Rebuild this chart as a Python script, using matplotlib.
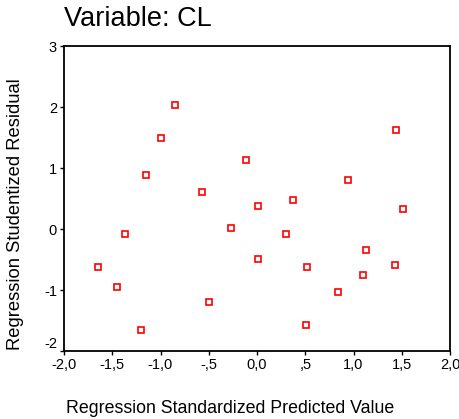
import matplotlib
matplotlib.use("Agg")
import matplotlib.pyplot as plt
from matplotlib.ticker import FixedLocator, FuncFormatter

plt.rcParams['font.family'] = ['Liberation Sans', 'DejaVu Sans']

# data (standardized predicted vs studentized residual)
pred = [-1.65, -1.45, -1.37, -1.20, -1.15, -0.99, -0.85, -0.57, -0.50, -0.27,
        -0.11, 0.01, 0.01, 0.30, 0.37, 0.52, 0.51, 0.84, 0.94, 1.13,
        1.10, 1.43, 1.44, 1.51]
resid = [-0.63, -0.95, -0.09, -1.66, 0.89, 1.49, 2.04, 0.61, -1.19, 0.02,
         1.13, 0.37, -0.49, -0.08, 0.48, -0.63, -1.58, -1.03, 0.81, -0.35,
         -0.75, -0.59, 1.62, 0.32]

xticks = [-2.0, -1.5, -1.0, -0.5, 0.0, 0.5, 1.0, 1.5, 2.0]
yticks = [-2, -1, 0, 1, 2, 3]


def spss_fmt(v, pos):
    # SPSS style: comma decimal, no leading zero
    s = "%.1f" % v
    s = s.replace(".", ",")
    if abs(v) < 1 and v != 0:
        s = s.replace("0,", ",")
    return s


fig = plt.figure(figsize=(4.59, 4.19), dpi=100)
ax = fig.add_axes([64/459, 1-351/419, (450-64)/459, (351-46)/419])

ax.plot(pred, resid, linestyle='none', marker='s', markersize=4.2,
        markerfacecolor='white', markeredgecolor='#ff0000', markeredgewidth=1.2)

ax.set_xlim(-2, 2)
ax.set_ylim(-2, 3)
ax.xaxis.set_major_locator(FixedLocator(xticks))
ax.xaxis.set_major_formatter(FuncFormatter(spss_fmt))
ax.yaxis.set_major_locator(FixedLocator(yticks))
ax.yaxis.set_major_formatter(FuncFormatter(lambda v, p: "%d" % v))

ax.tick_params(direction='out', length=3, width=1, labelsize=10.5, pad=2)
for sp in ax.spines.values():
    sp.set_linewidth(1.3)

# SPSS pushes the bottom y label above the x axis
for lab in ax.get_yticklabels():
    if lab.get_text() == "-2":
        lab.set_verticalalignment('bottom')

fig.text(64/459, 1-19/419, "Variable: CL", fontsize=19.5, ha='left', va='center')
fig.text(230/459, 1-408/419, "Regression Standardized Predicted Value",
         fontsize=12.8, ha='center', va='center')
fig.text(16/459, 1-214/419, "Regression Studentized Residual",
         fontsize=13.2, ha='center', va='center', rotation=90)

plt.savefig("out.png", dpi=100)
